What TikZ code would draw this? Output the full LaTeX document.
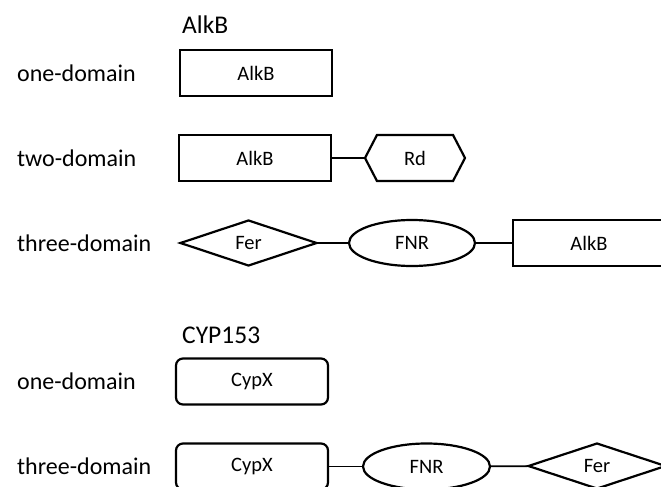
\documentclass[tikz,border=0pt]{standalone}
\usepackage{fontspec}
\setmainfont{Carlito}
\usetikzlibrary{shapes.geometric, shapes.symbols}

\tikzset{
  protdom/.style={draw=black, line width=2.2pt, inner sep=0pt, font=\fontsize{20.5}{24}\selectfont},
  boxdom/.style={protdom, rectangle, minimum width=152pt, minimum height=46pt},
  rounddom/.style={boxdom, rounded corners=7pt},
  ferdom/.style={protdom, diamond, minimum width=137pt, minimum height=46pt},
  fnrdom/.style={protdom, ellipse, minimum width=126pt, minimum height=46pt},
  rddom/.style={protdom, signal, signal to=west and east, signal pointer angle=125,
    minimum width=100pt, minimum height=46pt},
  rowlabel/.style={anchor=west, inner sep=0pt, font=\fontsize{24}{28}\selectfont},
  heading/.style={anchor=west, inner sep=0pt, font=\fontsize{25.5}{30}\selectfont},
  link/.style={line width=1.7pt}
}

\begin{document}
\begin{tikzpicture}[x=1pt, y=-1pt]
				\useasboundingbox (0,0) rectangle (661,487);
				
				% AlkB systems
				\node[heading] (alkbhead) at (182,25) {AlkB};
				
				\node[rowlabel] (alkbone) at (17,73) {one-domain};
				\node[boxdom] (alkbA) at (256,73) {AlkB};
				
				\node[rowlabel] (alkbtwo) at (17,158) {two-domain};
				\node[boxdom] (alkbB) at (255,158) {AlkB};
				\node[rddom] (rdB) at (415,158) {Rd};
				\draw[link] (alkbB) -- (rdB);
				
				\node[rowlabel] (alkbthree) at (17,243) {three-domain};
				\node[ferdom] (ferC) at (248.5,243) {Fer};
				\node[fnrdom] (fnrC) at (412,243) {FNR};
				\node[boxdom] (alkbC) at (589,243) {AlkB};
				\draw[link] (ferC) -- (fnrC);
				\draw[link] (fnrC) -- (alkbC);
				
				% CYP153 systems
				\node[heading] (cyphead) at (182,335) {CYP153};
				
				\node[rowlabel] (cypone) at (17,381) {one-domain};
				\node[rounddom] (cypxA) at (252,381.5) {CypX};
				
				\node[rowlabel] (cypthree) at (17,466) {three-domain};
				\node[rounddom] (cypxB) at (252,466.5) {CypX};
				\node[fnrdom, minimum width=127pt] (fnrB) at (426.5,466.5) {FNR};
				\node[ferdom, minimum width=138pt] (ferB) at (597,466) {Fer};
				\draw[link] (cypxB) -- (fnrB);
				\draw[link] (fnrB) -- (ferB);
				
\end{tikzpicture}
\end{document}
